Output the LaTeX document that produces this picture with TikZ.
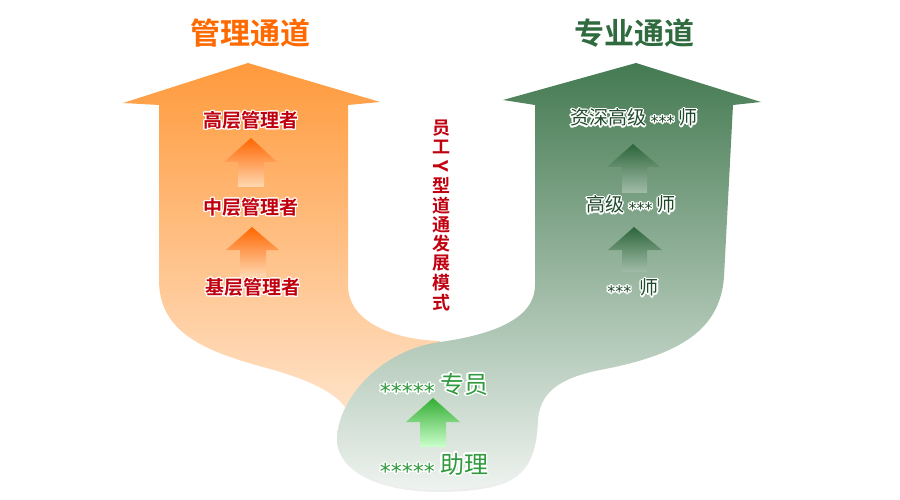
\documentclass[tikz,border=0pt]{standalone}
\usepackage{fontspec}
\setmainfont{Noto Sans CJK SC}[BoldFont={Noto Sans CJK SC Bold}]
\newfontfamily\saofont{DejaVu Sans}
\usepackage[copies]{contour}
\usepackage{tikz}
\usetikzlibrary{positioning}
\definecolor{guanli}{HTML}{FF6A00}
\definecolor{zhuanye}{HTML}{2F6B3E}
\definecolor{hongzi}{HTML}{C0000F}
\definecolor{luzi}{HTML}{2E9A3C}
\definecolor{shenlu}{HTML}{1F4A2A}
\definecolor{camtren}{HTML}{FF9A3C}
\definecolor{camgiua}{HTML}{FFB26E}
\definecolor{camduoi}{HTML}{FFE6CF}
\contourlength{1.3pt}
\tikzset{
  tieude/.style={font=\bfseries\fontsize{30}{30}\selectfont},
  capbac/.style={font=\bfseries\fontsize{19}{19}\selectfont, text=hongzi},
  kythuat/.style={font=\fontsize{19}{19}\selectfont, text=shenlu},
  nhanvien/.style={font=\fontsize{24}{24}\selectfont, text=luzi},
  docchu/.style={font=\bfseries\fontsize{18}{18}\selectfont, text=hongzi, inner sep=0pt},
}
\newcommand{\sao}[1]{{\saofont\fontsize{16}{16}\selectfont\raisebox{-2.8pt}{#1}}}
\newcommand{\saolon}[1]{{\saofont\fontsize{22}{22}\selectfont\raisebox{-6.5pt}{#1}}}

\begin{document}
\begin{tikzpicture}[x=1pt,y=-1pt]
			\useasboundingbox (0,0) rectangle (900,500);
			% duong quan ly
			\shade [top color=camtren, middle color=camgiua, bottom color=camduoi]
			  (248,63) -- (380,102) -- (348,105) -- (348,285)
			  .. controls (348,325) and (400,340) .. (440,341) -- (445,430) -- (350,430) -- (347,410)
			  .. controls (335,390) and (300,377) .. (263,367)
			  .. controls (200,350) and (159,330) .. (159,280) -- (159,105) -- (123,103) -- cycle;
			% bong
			\fill [black!7] (537,424) .. controls (535,472) and (520,491) .. (440,492)
			  .. controls (380,492) and (338,472) .. (338,442) -- (440,480) -- cycle;
			% duong chuyen mon
			\shade [top color=zhuanye!90!white, middle color=zhuanye!55!white, bottom color=zhuanye!8!white]
			  (636,63) -- (761,102) -- (733,105) -- (724,277)
			  .. controls (720,330) and (680,355) .. (600,370)
			  .. controls (560,378) and (540,392) .. (538,420)
			  .. controls (536,470) and (520,488) .. (440,490)
			  .. controls (380,490) and (337,470) .. (337,440)
			  .. controls (337,400) and (380,350) .. (440,342)
			  .. controls (490,335) and (535,320) .. (535,285) -- (535,105) -- (503,100) -- cycle;
			% mui ten nho
			\shade [top color=orange!80!red, bottom color=orange!30!white]
			  (251,138) -- (277,162) -- (264,162) -- (264,187) -- (238,187) -- (238,162) -- (224,162) -- cycle;
			\shade [top color=orange!80!red, bottom color=orange!30!white]
			  (252,227) -- (279,250) -- (266,250) -- (266,277) -- (240,277) -- (240,250) -- (226,250) -- cycle;
			\shade [top color=zhuanye!95!black, bottom color=zhuanye!45!white]
			  (633,144) -- (660,167) -- (647,167) -- (647,193) -- (622,193) -- (622,167) -- (607,167) -- cycle;
			\shade [top color=zhuanye!95!black, bottom color=zhuanye!45!white]
			  (634,227) -- (662,250) -- (647,250) -- (647,272) -- (622,272) -- (622,250) -- (608,250) -- cycle;
			\shade [top color=green!60!black!80!white, bottom color=green!20!white]
			  (433,398) -- (460,422) -- (446,422) -- (446,447) -- (420,447) -- (420,422) -- (406,422) -- cycle;
			% chu
			\node [tieude, text=guanli] (ql) at (250,33) {管理通道};
			\node [tieude, text=zhuanye] (cm) at (634,33) {专业通道};
			\node [capbac] (cao) at (251,121) {\contour{white}{高层管理者}};
			\node [capbac] (trung) at (251,208) {\contour{white}{中层管理者}};
			\node [capbac] (co) at (253,288) {\contour{white}{基层管理者}};
			\node [kythuat] (zs) at (634,119) {\contour{white}{资深高级 \sao{***} 师}};
			\node [kythuat] (gj) at (631,206) {\contour{white}{高级 \sao{***} 师}};
			\node [kythuat] (gs) at (633,289) {\contour{white}{\sao{***}\ \ 师}};
			\node [nhanvien] (zy) at (434,387) {\contour{white}{\saolon{*****} 专员}};
			\node [nhanvien] (zl) at (434,467) {\contour{white}{\saolon{*****} 助理}};
			\foreach \c/\i in {员/1,工/2,型/4,道/5,通/6,发/7,展/8,模/9,式/10}
			  \node [docchu] (mh\i) at (441,{118+19.4*(\i-0.5)}) {\c};
			\node [docchu, rotate=-90, font=\bfseries\fontsize{20}{20}\selectfont] (mh3) at (441,{118+19.4*2.5}) {Y};
		\end{tikzpicture}
\end{document}
